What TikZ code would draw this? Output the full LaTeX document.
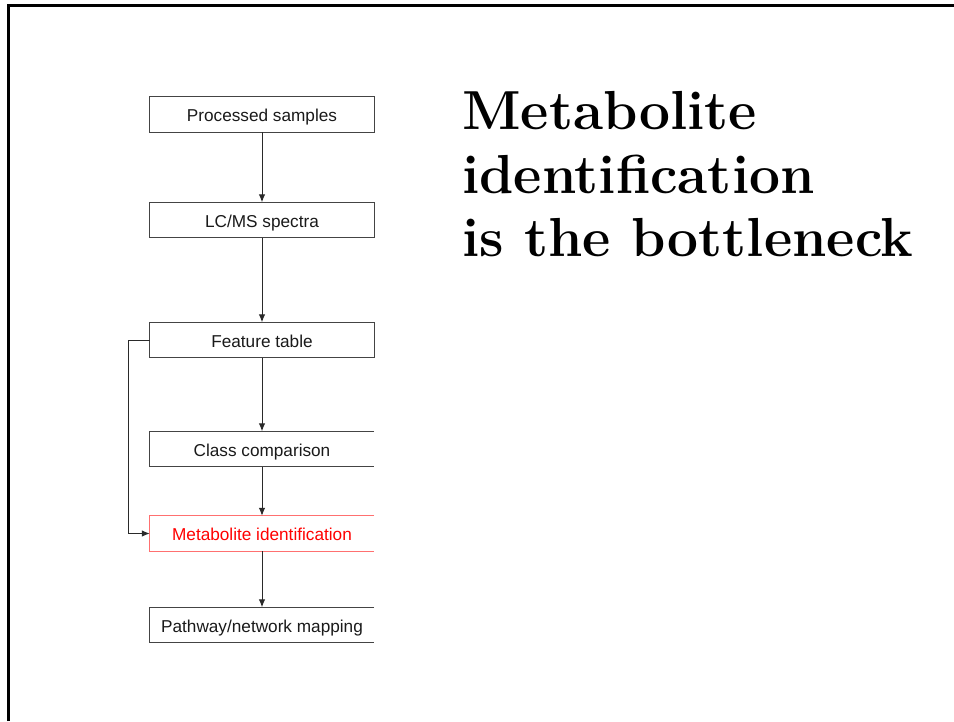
\documentclass[tikz,border=0pt]{standalone}
\usepackage{fontspec}
\newfontfamily\boxfont{Liberation Sans}
\usetikzlibrary{arrows.meta}
\definecolor{boxline}{HTML}{444444}
\definecolor{arrline}{HTML}{2A2A2A}
\definecolor{boxtext}{HTML}{1A1A1A}
\definecolor{redline}{HTML}{FF7070}
\begin{document}
\begin{tikzpicture}[x=1pt,y=-1pt,
  stepbox/.style={minimum width=224pt,minimum height=35pt,inner sep=0pt,
    text height=14.7pt,text depth=0pt,
    font=\boxfont\fontsize{17.2}{20}\selectfont,text=boxtext},
  boxedge/.style={draw=boxline,line width=1.2pt},
  flow/.style={draw=arrline,line width=1pt,-{Latex[length=8pt,width=6.5pt]}},
  title/.style={anchor=base west,inner sep=0pt,font=\fontsize{55}{63}\selectfont\bfseries}]
\useasboundingbox (0,0) rectangle (954,721);
\fill[white] (0,0) rectangle (954,721);
% frame
\draw[line width=3pt] (8,721) -- (8,5) -- (954,5);
% boxes
\node[stepbox] (ps) at (262,114.5) {Processed samples};
\node[stepbox] (lc) at (262,220) {LC/MS spectra};
\node[stepbox] (ft) at (262,340) {Feature table};
\node[stepbox] (cc) at (262,449) {Class comparison};
\node[stepbox,text=red] (mi) at (262,533.5) {Metabolite identification};
\node[stepbox] (pw) at (262,625) {Pathway/network mapping};
\foreach \n in {ps,lc,ft} \draw[boxedge] (\n.south west) rectangle (\n.north east);
\foreach \n in {cc,pw} \draw[boxedge] (\n.north east) -| (\n.south west) -- (\n.south east);
\draw[boxedge,draw=redline] (mi.north east) -| (mi.south west) -- (mi.south east);
% connectors
\draw[flow] (ps) -- (lc);
\draw[flow] (lc) -- (ft);
\draw[flow] (ft) -- (cc);
\draw[flow] (cc) -- (mi);
\draw[flow] (mi) -- (pw);
\coordinate (fb) at (128,340);
\draw[flow] (ft.west) -- (fb) |- (mi.west);
% title
\node[title] (t1) at (462,129) {Metabolite};
\node[title] (t2) at (462,193) {identification};
\node[title] (t3) at (462,256) {is the bottleneck};
\end{tikzpicture}
\end{document}
